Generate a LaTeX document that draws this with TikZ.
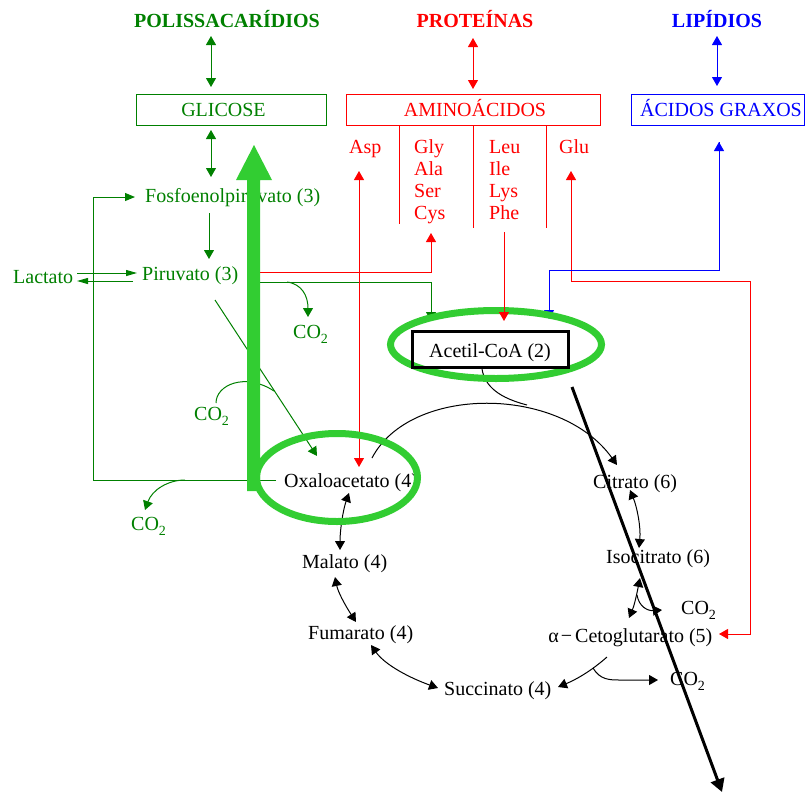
\documentclass[tikz,border=0pt]{standalone}
\usepackage{fontspec}
\setmainfont{Liberation Serif}
\usetikzlibrary{arrows.meta}
\definecolor{dgreen}{RGB}{0,128,0}
\definecolor{lgreen}{RGB}{50,205,50}
\newcommand\codois{CO\raisebox{-5pt}{\fontsize{14}{14}\selectfont 2}}
\begin{document}
\begin{tikzpicture}[x=1pt,y=-1pt,
  lbl/.style={inner sep=0pt, anchor=base west, font=\fontsize{20}{24}\selectfont},
  ttl/.style={inner sep=0pt, anchor=base, font=\fontsize{20}{24}\selectfont\bfseries},
  boxnode/.style={draw, line width=1pt, minimum height=31pt, inner sep=0pt},
  ln/.style={line width=1pt},
  tip/.style={-{Triangle[length=9pt,width=10pt]}},
  dtip/.style={{Triangle[length=9pt,width=10pt]}-{Triangle[length=9pt,width=10pt]}},
  slim/.style={-{Triangle[length=11pt,width=6pt]}},
]
\useasboundingbox (0,0) rectangle (806,793);

% ---------- titles and boxes ----------
\node[ttl, dgreen] (polis) at (227,27) {POLISSACARÍDIOS};
\node[ttl, red]    (prot)  at (475,27) {PROTEÍNAS};
\node[ttl, blue]   (lip)   at (717,27) {LIPÍDIOS};

\node[boxnode, dgreen, minimum width=190pt] (glibox) at (231,109.5) {};
\node[lbl, dgreen, anchor=base] (gli) at (223.5,116) {GLICOSE};
\node[boxnode, red, minimum width=254pt] (aabox) at (473,109.5) {};
\node[lbl, red, anchor=base] (aa) at (475,116) {AMINOÁCIDOS};
\node[boxnode, blue, minimum width=173pt] (agbox) at (717.5,109.5) {};
\node[lbl, blue, anchor=base] (ag) at (721,116) {ÁCIDOS GRAXOS};

% ---------- amino acid groups ----------
\node[lbl, red] (asp) at (349,153) {Asp};
\node[lbl, red] (gly) at (414,153) {Gly};
\node[lbl, red] (ala) at (414,175) {Ala};
\node[lbl, red] (ser) at (414,197) {Ser};
\node[lbl, red] (cys) at (414,219) {Cys};
\node[lbl, red] (leu) at (489,153) {Leu};
\node[lbl, red] (ile) at (489,175) {Ile};
\node[lbl, red] (lys) at (489,197) {Lys};
\node[lbl, red] (phe) at (489,219) {Phe};
\node[lbl, red] (glu) at (559,153) {Glu};
\draw[red, ln] (399,125) -- (399,224);
\draw[red, ln] (473,125) -- (473,228);
\draw[red, ln] (546,125) -- (546,228);

% ---------- glycolysis / gluconeogenesis ----------
\node[lbl, dgreen] (pep) at (145,202) {Fosfoenolpiruvato (3)};
\node[lbl, dgreen] (pir) at (142,280) {Piruvato (3)};
\node[lbl, dgreen] (lac) at (13,283) {Lactato};
\node[lbl, dgreen] (co2a) at (293,338) {\codois};
\node[lbl, dgreen] (co2b) at (194,420) {\codois};
\node[lbl, dgreen] (co2c) at (131,530) {\codois};

% ---------- citric acid cycle ----------
\node[lbl] (oaa)  at (284,487) {Oxaloacetato (4)};
\node[lbl] (acoa) at (429,357) {Acetil-CoA (2)};
\node[lbl] (cit)  at (593,488) {Citrato (6)};
\node[lbl] (iso)  at (606,563) {Isocitrato (6)};
\node[lbl] (co2d) at (681,614) {\codois};
\node[lbl] (akg)  at (575,642) {\llap{α\hspace{2pt}−\hspace{3pt}}Cetoglutarato (5)};
\node[lbl] (co2e) at (670,685) {\codois};
\node[lbl] (suc)  at (444,695) {Succinato (4)};
\node[lbl] (fum)  at (308,639) {Fumarato (4)};
\node[lbl] (mal)  at (302,568) {Malato (4)};

% ---------- connector end points ----------
\coordinate (polisS) at (211,36);  \coordinate (gliN) at (211,87);
\coordinate (protS) at (473,38);   \coordinate (aaN)  at (473,89);
\coordinate (lipS) at (717,36);    \coordinate (agN)  at (717,86);
\coordinate (gliS) at (211,130);   \coordinate (pepN) at (211,177);
\coordinate (pepS) at (209,213);   \coordinate (pirN) at (209,259);
\coordinate (lacE1) at (77,273);   \coordinate (pirW1) at (137,273);
\coordinate (pirW2) at (133,281);  \coordinate (lacE2) at (77,281);
\coordinate (oaaW) at (276,480);   \coordinate (pepW) at (135,197);
\coordinate (loopA) at (185,480);  \coordinate (co2cN) at (145,510);
\coordinate (pirS) at (215,300);   \coordinate (oaaNW) at (317,456);
\coordinate (arcA) at (216,403);   \coordinate (arcB) at (274,391);
\coordinate (pirR1) at (260,272);  \coordinate (cysS) at (431,233);
\coordinate (pirR2) at (260,282);  \coordinate (acoaNW) at (431,321);
\coordinate (co2aA) at (287,282);  \coordinate (co2aN) at (308,317);
\coordinate (aspS) at (359,171);   \coordinate (oaaN) at (359,467);
\coordinate (leuS) at (504,232);   \coordinate (acoaN) at (504,321);
\coordinate (gluS) at (571,171);   \coordinate (akgE) at (719,634);
\coordinate (agS) at (719,142);    \coordinate (acoaNE) at (549,319);
\coordinate (oaaNE) at (372,458);  \coordinate (citNW) at (617,465);
\coordinate (acoaS) at (482,369);  \coordinate (joinA) at (527,405);
\coordinate (citS) at (630,490);   \coordinate (isoN) at (639,548);
\coordinate (isoS) at (640,578);   \coordinate (akgN) at (629,618);
\coordinate (isoB) at (637,595);   \coordinate (co2dW) at (662,610);
\coordinate (akgS) at (607,657);   \coordinate (sucE) at (558,687);
\coordinate (akgB) at (593,668);   \coordinate (co2eW) at (658,680);
\coordinate (sucW) at (438,688);   \coordinate (fumE) at (371,645);
\coordinate (fumN) at (356,622);   \coordinate (malS) at (335,577);
\coordinate (malN) at (340,550);   \coordinate (oaaS) at (349,493);

% ---------- thin connectors ----------
\draw[dgreen, ln, dtip] (polisS) -- (gliN);
\draw[red, ln, dtip] (protS) -- (aaN);
\draw[blue, ln, dtip] (lipS) -- (agN);
\draw[dgreen, ln, dtip] (gliS) -- (pepN);
\draw[dgreen, ln, tip] (pepS) -- (pirN);
\draw[dgreen, ln, slim] (lacE1) -- (pirW1);
\draw[dgreen, ln, slim] (pirW2) -- (lacE2);
\draw[dgreen, ln, -{Triangle[length=10pt,width=8pt]}] (oaaW) -- (93,480) -- (93,197) -- (pepW);
\draw[dgreen, ln, tip] (loopA) .. controls (168,480) and (152,490) .. (co2cN);
\draw[dgreen, ln, tip] (pirS) -- (oaaNW);
\draw[dgreen, ln] (arcA) .. controls (216,385) and (245,372) .. (arcB);
\draw[red, ln, tip] (pirR1) -- (431,272) -- (cysS);
\draw[dgreen, ln, tip] (pirR2) -- (431,282) -- (acoaNW);
\draw[dgreen, ln, tip] (co2aA) .. controls (302,284) and (308,296) .. (co2aN);
\draw[red, ln, dtip] (aspS) -- (oaaN);
\draw[red, ln, dtip] (gluS) -- (571,281) -- (750,281) -- (750,634) -- (akgE);
\draw[blue, ln, tip] (agS) |- (549,270) -- (acoaNE);
\draw[blue, ln, -{Triangle[length=9pt,width=10pt]}] (719,270) -- (agS);

% cycle
\draw[ln, tip] (oaaNE) .. controls (410,385) and (560,385) .. (citNW);
\draw[ln] (acoaS) .. controls (485,387) and (500,398) .. (joinA);
\draw[ln, dtip] (citS) .. controls (637,507) and (641,527) .. (isoN);
\draw[ln, dtip] (isoS) .. controls (636,598) and (634,606) .. (akgN);
\draw[ln, tip] (isoB) .. controls (639,607) and (648,611) .. (co2dW);
\draw[ln, tip] (akgS) .. controls (590,672) and (575,680) .. (sucE);
\draw[ln, tip] (akgB) .. controls (600,680) and (610,680) .. (620,680) -- (co2eW);
\draw[ln, dtip] (sucW) .. controls (410,678) and (385,665) .. (fumE);
\draw[ln, dtip] (fumN) .. controls (345,605) and (338,592) .. (malS);
\draw[ln, dtip] (malN) .. controls (340,530) and (343,510) .. (oaaS);

% ---------- highlights ----------
\fill[lgreen] (247,491) -- (247,180) -- (236,180) -- (254,145) -- (272,180)
  -- (260,180) -- (260,491) -- cycle;
\draw[lgreen, line width=7pt] (337,477.5) ellipse [x radius=80.5, y radius=44];
\draw[lgreen, line width=7pt] (496,344.5) ellipse [x radius=105.5, y radius=34];
\draw[red, ln, tip] (leuS) -- (acoaN);
\node[draw, line width=3pt, minimum width=156pt, minimum height=36pt, inner sep=0pt]
  (acbox) at (490.5,349.5) {};
\coordinate (acoaSE) at (572,387);
\coordinate (bottomE) at (722,792);
\draw[line width=3pt, -{Triangle[length=13pt,width=14pt]}] (acoaSE) -- (bottomE);
\end{tikzpicture}
\end{document}
